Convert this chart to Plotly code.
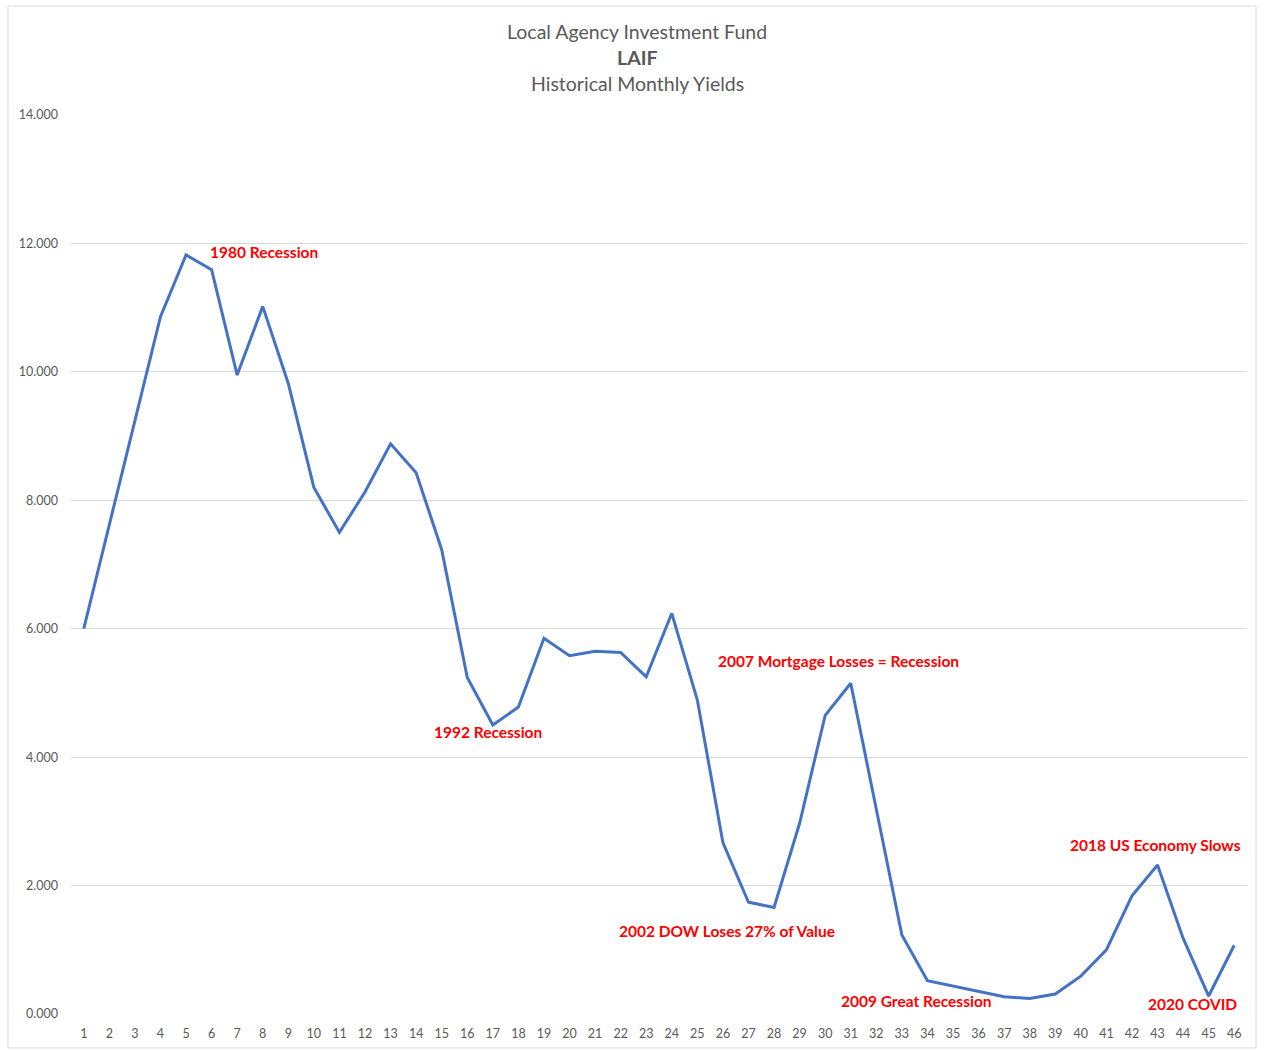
import plotly.graph_objects as go

periods = list(range(1, 47))
yields = [6.00, 7.62, 9.27, 10.86, 11.82, 11.59, 9.95, 11.02, 9.82, 8.20,
          7.50, 8.13, 8.88, 8.43, 7.23, 5.24, 4.50, 4.78, 5.85, 5.58,
          5.65, 5.63, 5.25, 6.24, 4.89, 2.67, 1.74, 1.66, 2.97, 4.65,
          5.15, 3.20, 1.23, 0.52, 0.44, 0.36, 0.27, 0.24, 0.31, 0.59,
          1.00, 1.84, 2.32, 1.18, 0.28, 1.07]

y_ticks = [0, 2, 4, 6, 8, 10, 12, 14]

ann_text = ["1980 Recession", "1992 Recession", "2007 Mortgage Losses = Recession",
            "2002 DOW Loses 27% of Value", "2009 Great Recession",
            "2018 US Economy Slows", "2020 COVID"]
ann_x = [8.04, 16.81, 30.54, 26.16, 33.59, 42.92, 44.37]
ann_y = [11.87, 4.39, 5.50, 1.29, 0.20, 2.63, 0.16]

title_lines = ["Local Agency Investment Fund", "<b>LAIF</b>", "Historical Monthly Yields"]

FONT = "Lato"
GRAY = "#595959"

fig = go.Figure()
fig.add_trace(go.Scatter(x=periods, y=yields, mode="lines",
                         line=dict(color="#4472C4", width=3), hoverinfo="x+y"))

for t, x, y in zip(ann_text, ann_x, ann_y):
    fig.add_annotation(x=x, y=y, xref="x", yref="y", text=f"<b>{t}</b>",
                       showarrow=False, xanchor="center", yanchor="middle",
                       font=dict(family=FONT, size=15.5, color="#FF0000"))

for t, yp in zip(title_lines, [1.0934, 1.0645, 1.0345]):
    fig.add_annotation(x=0.4813, y=yp, xref="paper", yref="paper", text=t,
                       showarrow=False, xanchor="center", yanchor="middle",
                       font=dict(family=FONT, size=19.5, color=GRAY))

fig.add_shape(type="rect", xref="paper", yref="paper",
              x0=-0.0536, x1=1.0077, y0=-0.0378, y1=1.1212,
              line=dict(color="#D9D9D9", width=1), fillcolor="rgba(0,0,0,0)", layer="below")

fig.update_layout(
    width=1264, height=1051,
    margin=dict(l=71, r=17, t=115, b=37),
    paper_bgcolor="white", plot_bgcolor="white",
    showlegend=False,
    font=dict(family=FONT, color=GRAY, size=12),
    xaxis=dict(range=[0.5, 46.5], tickmode="array", tickvals=periods,
               ticktext=[str(p) for p in periods], showgrid=False, zeroline=False,
               showline=False, ticks="", ticklabelstandoff=10, automargin=False,
               tickfont=dict(family=FONT, size=12.5, color=GRAY)),
    yaxis=dict(range=[0, 14], tickmode="array", tickvals=y_ticks,
               ticktext=[f"{v:.3f}" for v in y_ticks], showgrid=True,
               gridcolor="#D9D9D9", gridwidth=1, zeroline=False, showline=False,
               ticks="", ticklabelstandoff=12, automargin=False,
               tickfont=dict(family=FONT, size=12.5, color=GRAY)),
)

fig.write_html("out.html")
